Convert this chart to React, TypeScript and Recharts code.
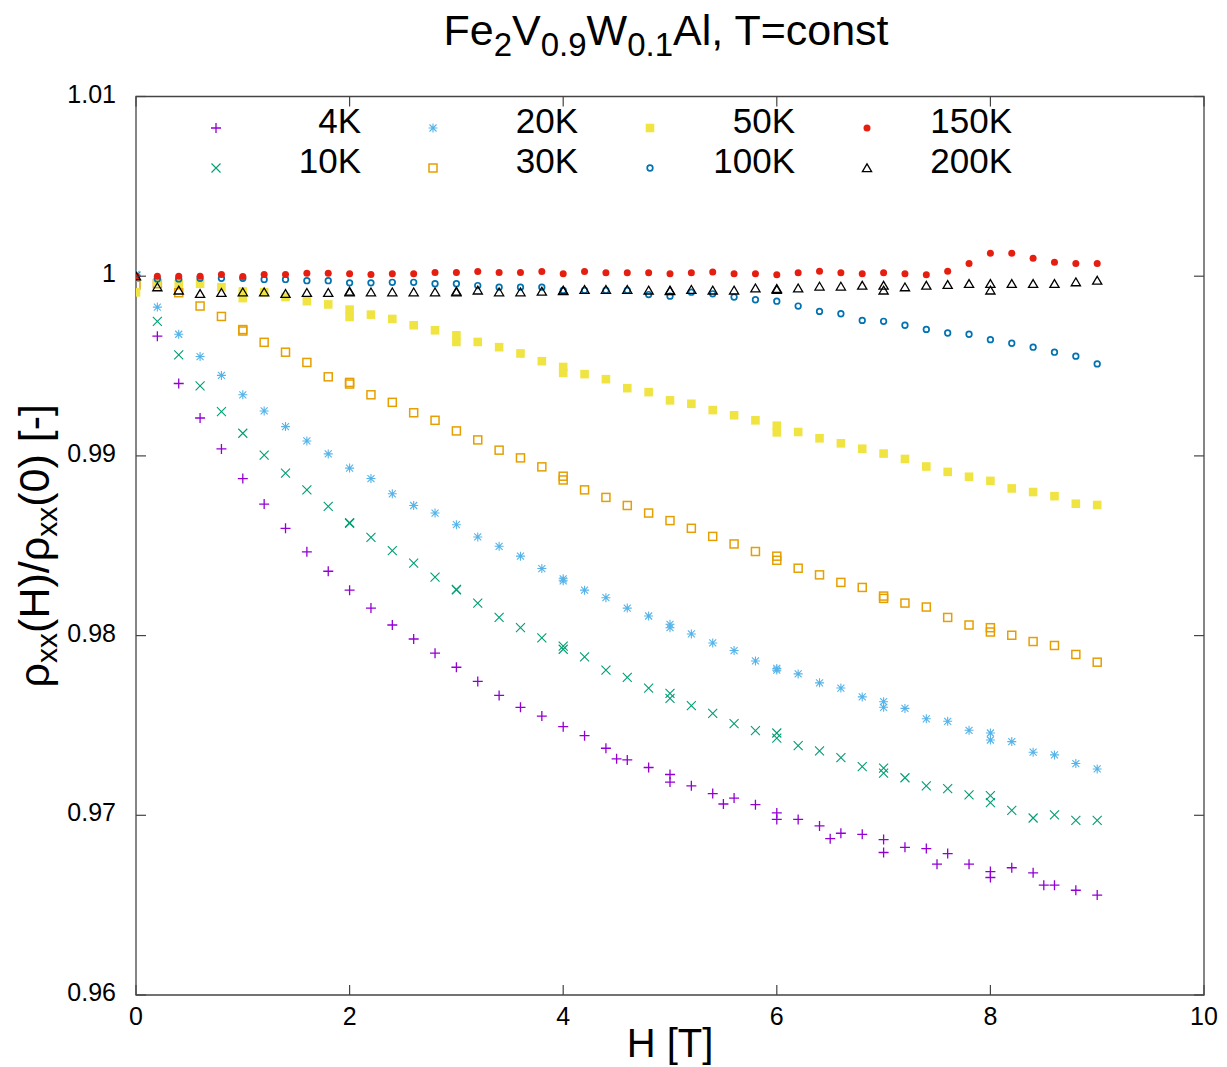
import { Legend, ReferenceArea, Scatter, ScatterChart, XAxis, YAxis } from "recharts";

// field H [T] vs normalized resistivity rho_xx(H)/rho_xx(0), one array per temperature
const T4K = [
  { h: 0, r: 1.0 }, { h: 0.2, r: 0.99666 }, { h: 0.4, r: 0.99403 }, { h: 0.6, r: 0.99211 },
  { h: 0.8, r: 0.99039 }, { h: 1.0, r: 0.98874 }, { h: 1.2, r: 0.98732 }, { h: 1.4, r: 0.98597 },
  { h: 1.6, r: 0.98466 }, { h: 1.8, r: 0.98358 }, { h: 2.0, r: 0.98253 }, { h: 2.2, r: 0.98153 },
  { h: 2.4, r: 0.98059 }, { h: 2.6, r: 0.97981 }, { h: 2.8, r: 0.97902 }, { h: 3.0, r: 0.97824 },
  { h: 3.2, r: 0.97745 }, { h: 3.4, r: 0.97667 }, { h: 3.6, r: 0.97601 }, { h: 3.8, r: 0.97552 },
  { h: 4.0, r: 0.97493 }, { h: 4.2, r: 0.97443 }, { h: 4.4, r: 0.97373 }, { h: 4.5, r: 0.97314 },
  { h: 4.6, r: 0.97308 }, { h: 4.8, r: 0.97266 }, { h: 5.0, r: 0.97227 }, { h: 5.0, r: 0.97185 },
  { h: 5.2, r: 0.97164 }, { h: 5.4, r: 0.97121 }, { h: 5.5, r: 0.97063 }, { h: 5.6, r: 0.97096 },
  { h: 5.8, r: 0.97059 }, { h: 6.0, r: 0.97013 }, { h: 6.0, r: 0.96977 }, { h: 6.2, r: 0.96977 },
  { h: 6.4, r: 0.96941 }, { h: 6.5, r: 0.9687 }, { h: 6.6, r: 0.969 }, { h: 6.8, r: 0.96894 },
  { h: 7.0, r: 0.96865 }, { h: 7.0, r: 0.96793 }, { h: 7.2, r: 0.96822 }, { h: 7.4, r: 0.96815 },
  { h: 7.5, r: 0.96728 }, { h: 7.6, r: 0.96787 }, { h: 7.8, r: 0.96728 }, { h: 8.0, r: 0.96687 },
  { h: 8.0, r: 0.96654 }, { h: 8.2, r: 0.96708 }, { h: 8.4, r: 0.9668 }, { h: 8.5, r: 0.96611 },
  { h: 8.6, r: 0.96611 }, { h: 8.8, r: 0.96583 }, { h: 9.0, r: 0.96556 },
];

const T10K = [
  { h: 0, r: 1.0 }, { h: 0.2, r: 0.99749 }, { h: 0.4, r: 0.99562 }, { h: 0.6, r: 0.9939 },
  { h: 0.8, r: 0.99246 }, { h: 1.0, r: 0.99126 }, { h: 1.2, r: 0.99004 }, { h: 1.4, r: 0.98904 },
  { h: 1.6, r: 0.98811 }, { h: 1.8, r: 0.98719 }, { h: 2.0, r: 0.98628 }, { h: 2.0, r: 0.98625 },
  { h: 2.2, r: 0.98547 }, { h: 2.4, r: 0.98473 }, { h: 2.6, r: 0.98403 }, { h: 2.8, r: 0.98325 },
  { h: 3.0, r: 0.98257 }, { h: 3.0, r: 0.98254 }, { h: 3.2, r: 0.98181 }, { h: 3.4, r: 0.98101 },
  { h: 3.6, r: 0.98044 }, { h: 3.8, r: 0.97987 }, { h: 4.0, r: 0.97942 }, { h: 4.0, r: 0.97924 },
  { h: 4.2, r: 0.97881 }, { h: 4.4, r: 0.97808 }, { h: 4.6, r: 0.97767 }, { h: 4.8, r: 0.97708 },
  { h: 5.0, r: 0.97678 }, { h: 5.0, r: 0.97651 }, { h: 5.2, r: 0.9761 }, { h: 5.4, r: 0.97567 },
  { h: 5.6, r: 0.9751 }, { h: 5.8, r: 0.97471 }, { h: 6.0, r: 0.97458 }, { h: 6.0, r: 0.97429 },
  { h: 6.2, r: 0.97388 }, { h: 6.4, r: 0.97358 }, { h: 6.6, r: 0.97321 }, { h: 6.8, r: 0.97271 },
  { h: 7.0, r: 0.97262 }, { h: 7.0, r: 0.97235 }, { h: 7.2, r: 0.97209 }, { h: 7.4, r: 0.97164 },
  { h: 7.6, r: 0.97149 }, { h: 7.8, r: 0.97114 }, { h: 8.0, r: 0.97109 }, { h: 8.0, r: 0.9707 },
  { h: 8.2, r: 0.97027 }, { h: 8.4, r: 0.96985 }, { h: 8.6, r: 0.97002 }, { h: 8.8, r: 0.96972 },
  { h: 9.0, r: 0.96972 },
];

const T20K = [
  { h: 0, r: 1.0001 }, { h: 0.2, r: 0.99828 }, { h: 0.4, r: 0.99677 }, { h: 0.6, r: 0.99553 },
  { h: 0.8, r: 0.99448 }, { h: 1.0, r: 0.9934 }, { h: 1.2, r: 0.9925 }, { h: 1.4, r: 0.99163 },
  { h: 1.6, r: 0.99083 }, { h: 1.8, r: 0.99011 }, { h: 2.0, r: 0.98932 }, { h: 2.2, r: 0.98874 },
  { h: 2.4, r: 0.98789 }, { h: 2.6, r: 0.98724 }, { h: 2.8, r: 0.98682 }, { h: 3.0, r: 0.98617 },
  { h: 3.2, r: 0.98549 }, { h: 3.4, r: 0.98497 }, { h: 3.6, r: 0.98442 }, { h: 3.8, r: 0.98373 },
  { h: 4.0, r: 0.98316 }, { h: 4.0, r: 0.98305 }, { h: 4.2, r: 0.98253 }, { h: 4.4, r: 0.98211 },
  { h: 4.6, r: 0.98153 }, { h: 4.8, r: 0.98109 }, { h: 5.0, r: 0.98063 }, { h: 5.0, r: 0.98044 },
  { h: 5.2, r: 0.98009 }, { h: 5.4, r: 0.97959 }, { h: 5.6, r: 0.97917 }, { h: 5.8, r: 0.97859 },
  { h: 6.0, r: 0.97817 }, { h: 6.0, r: 0.97808 }, { h: 6.2, r: 0.97787 }, { h: 6.4, r: 0.97737 },
  { h: 6.6, r: 0.97708 }, { h: 6.8, r: 0.97659 }, { h: 7.0, r: 0.97632 }, { h: 7.0, r: 0.97601 },
  { h: 7.2, r: 0.97595 }, { h: 7.4, r: 0.97537 }, { h: 7.6, r: 0.97523 }, { h: 7.8, r: 0.97473 },
  { h: 8.0, r: 0.97458 }, { h: 8.0, r: 0.97419 }, { h: 8.2, r: 0.9741 }, { h: 8.4, r: 0.97351 },
  { h: 8.6, r: 0.97336 }, { h: 8.8, r: 0.97288 }, { h: 9.0, r: 0.97258 },
];

const T30K = [
  { h: 0, r: 0.9995 }, { h: 0.2, r: 0.99958 }, { h: 0.4, r: 0.99908 }, { h: 0.6, r: 0.99834 },
  { h: 0.8, r: 0.99776 }, { h: 1.0, r: 0.99703 }, { h: 1.0, r: 0.99695 }, { h: 1.2, r: 0.99632 },
  { h: 1.4, r: 0.99577 }, { h: 1.6, r: 0.9952 }, { h: 1.8, r: 0.9944 }, { h: 2.0, r: 0.99409 },
  { h: 2.0, r: 0.994 }, { h: 2.2, r: 0.9934 }, { h: 2.4, r: 0.99298 }, { h: 2.6, r: 0.9924 },
  { h: 2.8, r: 0.99198 }, { h: 3.0, r: 0.99139 }, { h: 3.2, r: 0.99089 }, { h: 3.4, r: 0.99032 },
  { h: 3.6, r: 0.98989 }, { h: 3.8, r: 0.98939 }, { h: 4.0, r: 0.98887 }, { h: 4.0, r: 0.98866 },
  { h: 4.2, r: 0.98811 }, { h: 4.4, r: 0.98769 }, { h: 4.6, r: 0.98724 }, { h: 4.8, r: 0.98682 },
  { h: 5.0, r: 0.9864 }, { h: 5.2, r: 0.98597 }, { h: 5.4, r: 0.98552 }, { h: 5.6, r: 0.9851 },
  { h: 5.8, r: 0.98468 }, { h: 6.0, r: 0.98442 }, { h: 6.0, r: 0.98419 }, { h: 6.2, r: 0.98375 },
  { h: 6.4, r: 0.98338 }, { h: 6.6, r: 0.98296 }, { h: 6.8, r: 0.98268 }, { h: 7.0, r: 0.9822 },
  { h: 7.0, r: 0.98207 }, { h: 7.2, r: 0.98181 }, { h: 7.4, r: 0.98159 }, { h: 7.6, r: 0.98101 },
  { h: 7.8, r: 0.98059 }, { h: 8.0, r: 0.98044 }, { h: 8.0, r: 0.9802 }, { h: 8.2, r: 0.98002 },
  { h: 8.4, r: 0.97967 }, { h: 8.6, r: 0.97945 }, { h: 8.8, r: 0.97895 }, { h: 9.0, r: 0.97852 },
];

const T50K = [
  { h: 0, r: 0.9991 }, { h: 0.2, r: 0.99967 }, { h: 0.4, r: 0.99958 }, { h: 0.6, r: 0.99958 },
  { h: 0.8, r: 0.99939 }, { h: 1.0, r: 0.99915 }, { h: 1.0, r: 0.99878 }, { h: 1.2, r: 0.99911 },
  { h: 1.4, r: 0.99884 }, { h: 1.6, r: 0.99861 }, { h: 1.8, r: 0.99843 }, { h: 2.0, r: 0.99814 },
  { h: 2.0, r: 0.99773 }, { h: 2.2, r: 0.99786 }, { h: 2.4, r: 0.99762 }, { h: 2.6, r: 0.99727 },
  { h: 2.8, r: 0.99699 }, { h: 3.0, r: 0.99671 }, { h: 3.0, r: 0.99634 }, { h: 3.2, r: 0.99634 },
  { h: 3.4, r: 0.99605 }, { h: 3.6, r: 0.9957 }, { h: 3.8, r: 0.99527 }, { h: 4.0, r: 0.99495 },
  { h: 4.0, r: 0.99462 }, { h: 4.2, r: 0.99455 }, { h: 4.4, r: 0.99427 }, { h: 4.6, r: 0.99377 },
  { h: 4.8, r: 0.99355 }, { h: 5.0, r: 0.99309 }, { h: 5.2, r: 0.9929 }, { h: 5.4, r: 0.99255 },
  { h: 5.6, r: 0.99226 }, { h: 5.8, r: 0.99198 }, { h: 6.0, r: 0.99168 }, { h: 6.0, r: 0.99131 },
  { h: 6.2, r: 0.99133 }, { h: 6.4, r: 0.99098 }, { h: 6.6, r: 0.9907 }, { h: 6.8, r: 0.9904 },
  { h: 7.0, r: 0.99013 }, { h: 7.2, r: 0.98983 }, { h: 7.4, r: 0.98941 }, { h: 7.6, r: 0.98911 },
  { h: 7.8, r: 0.98884 }, { h: 8.0, r: 0.98861 }, { h: 8.2, r: 0.98819 }, { h: 8.4, r: 0.98799 },
  { h: 8.6, r: 0.98776 }, { h: 8.8, r: 0.98734 }, { h: 9.0, r: 0.98727 },
];

const T100K = [
  { h: 0, r: 1.0 }, { h: 0.2, r: 0.99985 }, { h: 0.4, r: 0.99985 }, { h: 0.6, r: 0.99988 },
  { h: 0.8, r: 0.99988 }, { h: 1.0, r: 0.99988 }, { h: 1.2, r: 0.99982 }, { h: 1.4, r: 0.99982 },
  { h: 1.6, r: 0.99975 }, { h: 1.8, r: 0.99975 }, { h: 2.0, r: 0.99963 }, { h: 2.2, r: 0.99963 },
  { h: 2.4, r: 0.99966 }, { h: 2.6, r: 0.99966 }, { h: 2.8, r: 0.99958 }, { h: 3.0, r: 0.99958 },
  { h: 3.2, r: 0.99948 }, { h: 3.4, r: 0.99939 }, { h: 3.6, r: 0.99939 }, { h: 3.8, r: 0.99939 },
  { h: 4.0, r: 0.99921 }, { h: 4.2, r: 0.99921 }, { h: 4.4, r: 0.99921 }, { h: 4.6, r: 0.99921 },
  { h: 4.8, r: 0.99898 }, { h: 5.0, r: 0.99889 }, { h: 5.2, r: 0.99911 }, { h: 5.4, r: 0.99902 },
  { h: 5.6, r: 0.99884 }, { h: 5.8, r: 0.99869 }, { h: 6.0, r: 0.99861 }, { h: 6.2, r: 0.99834 },
  { h: 6.4, r: 0.99804 }, { h: 6.6, r: 0.99791 }, { h: 6.8, r: 0.99754 }, { h: 7.0, r: 0.99749 },
  { h: 7.2, r: 0.99727 }, { h: 7.4, r: 0.99704 }, { h: 7.6, r: 0.99684 }, { h: 7.8, r: 0.99677 },
  { h: 8.0, r: 0.99647 }, { h: 8.2, r: 0.99627 }, { h: 8.4, r: 0.99605 }, { h: 8.6, r: 0.99577 },
  { h: 8.8, r: 0.99555 }, { h: 9.0, r: 0.99512 },
];

const T150K = [
  { h: 0, r: 1.0 }, { h: 0.2, r: 1.0 }, { h: 0.4, r: 1.0 }, { h: 0.6, r: 1.0 },
  { h: 0.8, r: 1.0001 }, { h: 1.0, r: 0.99999 }, { h: 1.2, r: 1.0001 }, { h: 1.4, r: 1.0001 },
  { h: 1.6, r: 1.00017 }, { h: 1.8, r: 1.00017 }, { h: 2.0, r: 1.00013 }, { h: 2.2, r: 1.0001 },
  { h: 2.4, r: 1.00013 }, { h: 2.6, r: 1.00013 }, { h: 2.8, r: 1.0002 }, { h: 3.0, r: 1.0002 },
  { h: 3.2, r: 1.00026 }, { h: 3.4, r: 1.0002 }, { h: 3.6, r: 1.0002 }, { h: 3.8, r: 1.00026 },
  { h: 4.0, r: 1.00013 }, { h: 4.2, r: 1.00026 }, { h: 4.4, r: 1.00019 }, { h: 4.6, r: 1.00019 },
  { h: 4.8, r: 1.00019 }, { h: 5.0, r: 1.00013 }, { h: 5.2, r: 1.00019 }, { h: 5.4, r: 1.00023 },
  { h: 5.6, r: 1.00013 }, { h: 5.8, r: 1.00013 }, { h: 6.0, r: 1.00008 }, { h: 6.2, r: 1.00019 },
  { h: 6.4, r: 1.00028 }, { h: 6.6, r: 1.00019 }, { h: 6.8, r: 1.00013 }, { h: 7.0, r: 1.00019 },
  { h: 7.2, r: 1.00013 }, { h: 7.4, r: 1.00008 }, { h: 7.6, r: 1.00028 }, { h: 7.8, r: 1.0007 },
  { h: 8.0, r: 1.00128 }, { h: 8.2, r: 1.00128 }, { h: 8.4, r: 1.001 }, { h: 8.6, r: 1.00078 },
  { h: 8.8, r: 1.0007 }, { h: 9.0, r: 1.0007 },
];

const T200K = [
  { h: 0, r: 1.0 }, { h: 0.2, r: 0.99939 }, { h: 0.4, r: 0.99921 }, { h: 0.6, r: 0.99902 },
  { h: 0.8, r: 0.99908 }, { h: 1.0, r: 0.99911 }, { h: 1.2, r: 0.99911 }, { h: 1.4, r: 0.99902 },
  { h: 1.6, r: 0.99908 }, { h: 1.8, r: 0.99908 }, { h: 2.0, r: 0.99911 }, { h: 2.0, r: 0.99915 },
  { h: 2.2, r: 0.99911 }, { h: 2.4, r: 0.99911 }, { h: 2.6, r: 0.99911 }, { h: 2.8, r: 0.99911 },
  { h: 3.0, r: 0.99915 }, { h: 3.0, r: 0.99911 }, { h: 3.2, r: 0.99921 }, { h: 3.4, r: 0.99911 },
  { h: 3.6, r: 0.99911 }, { h: 3.8, r: 0.99915 }, { h: 4.0, r: 0.99921 }, { h: 4.0, r: 0.99918 },
  { h: 4.2, r: 0.99925 }, { h: 4.4, r: 0.99925 }, { h: 4.6, r: 0.99925 }, { h: 4.8, r: 0.99921 },
  { h: 5.0, r: 0.99921 }, { h: 5.0, r: 0.99918 }, { h: 5.2, r: 0.99925 }, { h: 5.4, r: 0.99921 },
  { h: 5.6, r: 0.99921 }, { h: 5.8, r: 0.99933 }, { h: 6.0, r: 0.9993 }, { h: 6.0, r: 0.99925 },
  { h: 6.2, r: 0.99933 }, { h: 6.4, r: 0.99943 }, { h: 6.6, r: 0.99943 }, { h: 6.8, r: 0.99948 },
  { h: 7.0, r: 0.99948 }, { h: 7.0, r: 0.99921 }, { h: 7.2, r: 0.99939 }, { h: 7.4, r: 0.99948 },
  { h: 7.6, r: 0.99952 }, { h: 7.8, r: 0.99958 }, { h: 8.0, r: 0.99958 }, { h: 8.0, r: 0.99921 },
  { h: 8.2, r: 0.99958 }, { h: 8.4, r: 0.99958 }, { h: 8.6, r: 0.99958 }, { h: 8.8, r: 0.99967 },
  { h: 9.0, r: 0.99976 },
];

const X_TICKS = [0, 2, 4, 6, 8, 10];
const Y_TICKS = [0.96, 0.97, 0.98, 0.99, 1, 1.01];

type Marker = "plus" | "cross" | "star" | "box" | "boxFilled" | "circle" | "dot" | "triangle";

const SERIES: { name: string; data: { h: number; r: number }[]; color: string; marker: Marker }[] = [
  { name: "4K", data: T4K, color: "#9400d3", marker: "plus" },
  { name: "10K", data: T10K, color: "#009e73", marker: "cross" },
  { name: "20K", data: T20K, color: "#56b4e9", marker: "star" },
  { name: "30K", data: T30K, color: "#e69f00", marker: "box" },
  { name: "50K", data: T50K, color: "#f0e442", marker: "boxFilled" },
  { name: "100K", data: T100K, color: "#0072b2", marker: "circle" },
  { name: "150K", data: T150K, color: "#e51e10", marker: "dot" },
  { name: "200K", data: T200K, color: "#000000", marker: "triangle" },
];

const W = 1227;
const H = 1067;
const PLOT_W = 1068;
const PLOT_H = 898.5;
const FONT = "'Liberation Sans', Arial, Helvetica, sans-serif";
const FRAME = "#444";

function drawMarker(kind: Marker, cx: number, cy: number, c: string) {
  switch (kind) {
    case "plus":
      return <path d={`M${cx - 5},${cy}H${cx + 5}M${cx},${cy - 5}V${cy + 5}`} stroke={c} strokeWidth={1.3} fill="none" />;
    case "cross":
      return <path d={`M${cx - 4.5},${cy - 4.5}L${cx + 4.5},${cy + 4.5}M${cx - 4.5},${cy + 4.5}L${cx + 4.5},${cy - 4.5}`} stroke={c} strokeWidth={1.1} fill="none" />;
    case "star":
      return (
        <path
          d={`M${cx - 4.5},${cy}H${cx + 4.5}M${cx},${cy - 4.5}V${cy + 4.5}M${cx - 3.5},${cy - 3.5}L${cx + 3.5},${cy + 3.5}M${cx - 3.5},${cy + 3.5}L${cx + 3.5},${cy - 3.5}`}
          stroke={c}
          strokeWidth={1.1}
          fill="none"
        />
      );
    case "box":
      return <rect x={cx - 4} y={cy - 4} width={8} height={8} stroke={c} strokeWidth={1.5} fill="none" />;
    case "boxFilled":
      return <rect x={cx - 4.3} y={cy - 4.3} width={8.6} height={8.6} fill={c} />;
    case "circle":
      return <circle cx={cx} cy={cy} r={2.8} stroke={c} strokeWidth={1.7} fill="none" />;
    case "dot":
      return <circle cx={cx} cy={cy} r={3.5} fill={c} />;
    case "triangle":
      return <path d={`M${cx},${cy - 4.2}L${cx + 4.6},${cy + 3.6}H${cx - 4.6}Z`} stroke={c} strokeWidth={1.3} fill="none" />;
  }
}

const fmtY = (v: number) => String(Number(v.toFixed(2)));

function XTick(props: any) {
  const { x, y, payload } = props;
  return (
    <g>
      <line x1={x} x2={x} y1={y} y2={y - 10} stroke={FRAME} strokeWidth={1.2} />
      <line x1={x} x2={x} y1={y - PLOT_H} y2={y - PLOT_H + 10} stroke={FRAME} strokeWidth={1.2} />
      <text x={x} y={y + 30} textAnchor="middle" fontSize={25} fontFamily={FONT} fill="#000">
        {payload.value}
      </text>
    </g>
  );
}

function YTick(props: any) {
  const { x, y, payload } = props;
  return (
    <g>
      <line x1={x} x2={x + 10} y1={y} y2={y} stroke={FRAME} strokeWidth={1.2} />
      <line x1={x + PLOT_W - 10} x2={x + PLOT_W} y1={y} y2={y} stroke={FRAME} strokeWidth={1.2} />
      <text x={x - 20} y={y + 6} textAnchor="end" fontSize={25} fontFamily={FONT} fill="#000">
        {fmtY(payload.value)}
      </text>
    </g>
  );
}

function XTitle(props: any) {
  const vb = props.viewBox || { x: 136, y: 995, width: PLOT_W };
  return (
    <text x={vb.x + vb.width / 2} y={vb.y + 62} textAnchor="middle" fontSize={40} fontFamily={FONT} fill="#000">
      H [T]
    </text>
  );
}

function YTitle(props: any) {
  const vb = props.viewBox || { y: 96.5, height: PLOT_H };
  const cy = vb.y + vb.height / 2;
  return (
    <text transform="rotate(-90)" x={-cy} y={49} textAnchor="middle" fontSize={43} fontFamily={FONT} fill="#000">
      ρ<tspan fontSize={30} dy={8}>xx</tspan>
      <tspan dy={-8}>(H)/ρ</tspan>
      <tspan fontSize={30} dy={8}>xx</tspan>
      <tspan dy={-8}>(0) [-]</tspan>
    </text>
  );
}

function KeyBox() {
  return (
    <svg width={W} height={200} style={{ display: "block" }}>
      {SERIES.map((s, i) => {
        const col = Math.floor(i / 2);
        const row = i % 2;
        const my = 128 + row * 40;
        return (
          <g key={s.name}>
            {drawMarker(s.marker, 216 + col * 217, my, s.color)}
            <text x={361 + col * 217} y={my + 5} textAnchor="end" fontSize={35} fontFamily={FONT} fill="#000">
              {s.name}
            </text>
          </g>
        );
      })}
    </svg>
  );
}

export default function App() {
  return (
    <div style={{ position: "absolute", left: 0, top: 0, width: W, height: H, background: "#fff" }}>
      <ScatterChart width={W} height={H} margin={{ top: 96.5, right: 23, bottom: 0, left: 0 }}>
        <XAxis
          type="number"
          dataKey="h"
          domain={[0, 10]}
          ticks={X_TICKS}
          interval={0}
          allowDataOverflow
          height={72}
          axisLine={false}
          tickLine={false}
          tickSize={0}
          tickMargin={0}
          tick={<XTick />}
          label={<XTitle />}
        />
        <YAxis
          type="number"
          dataKey="r"
          domain={[0.96, 1.01]}
          ticks={Y_TICKS}
          interval={0}
          allowDataOverflow
          width={136}
          axisLine={false}
          tickLine={false}
          tickSize={0}
          tickMargin={0}
          tick={<YTick />}
          label={<YTitle />}
        />
        <ReferenceArea x1={0} x2={10} y1={0.96} y2={1.01} fill="none" stroke={FRAME} strokeWidth={1.3} />
        {SERIES.map((s) => (
          <Scatter
            key={s.name}
            name={s.name}
            data={s.data}
            fill={s.color}
            isAnimationActive={false}
            shape={(p: any) => drawMarker(s.marker, p.cx, p.cy, s.color)}
          />
        ))}
        <Legend
          verticalAlign="middle"
          align="center"
          layout="horizontal"
          wrapperStyle={{ left: 0, top: 0, width: W, height: 200 }}
          content={() => <KeyBox />}
        />
      </ScatterChart>
      <svg width={W} height={70} style={{ position: "absolute", left: 0, top: 0 }}>
        <text x={666} y={45} textAnchor="middle" fontSize={43} fontFamily={FONT} fill="#000">
          Fe<tspan fontSize={33} dy={11}>2</tspan>
          <tspan dy={-11}>V</tspan>
          <tspan fontSize={33} dy={11}>0.9</tspan>
          <tspan dy={-11}>W</tspan>
          <tspan fontSize={33} dy={11}>0.1</tspan>
          <tspan dy={-11}>Al, T=const</tspan>
        </text>
      </svg>
    </div>
  );
}
